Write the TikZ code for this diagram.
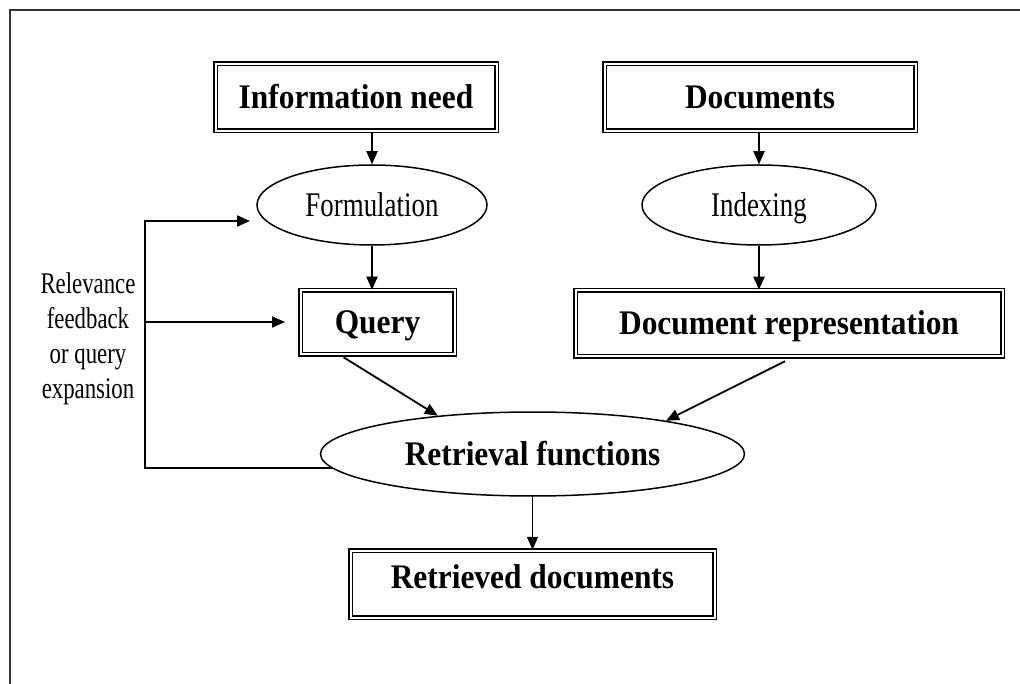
\documentclass[tikz,border=0pt]{standalone}
\usepackage{fontspec}
\setmainfont{Liberation Serif}
\newfontfamily\rmcond[FakeStretch=0.78]{Liberation Serif}
\newfontfamily\fbcond[FakeStretch=0.76]{Liberation Serif}
\newfontfamily\bfcond[FakeStretch=0.91]{Liberation Serif}
\usetikzlibrary{shapes.geometric,arrows.meta,calc}
\begin{document}
\begin{tikzpicture}[x=1pt,y=-1pt,
 dbox/.style={draw, double, double distance=2pt, line width=1.5pt, inner sep=0pt, text height=23pt, text depth=0pt, font=\bfcond\bfseries\fontsize{34.5}{38}\selectfont},
 oval/.style={ellipse, draw, line width=1.5pt, inner sep=0pt, text height=23pt, text depth=0pt},
 ovaltext/.style={font=\rmcond\fontsize{34.5}{38}\selectfont},
 conn/.style={line width=1.8pt, -{Triangle[length=13pt,width=11pt]}}]
\useasboundingbox (0,0) rectangle (1020,684);
\fill[white] (0,0) rectangle (1020,684);
\draw[line width=2.2pt, color=black!80] (10,684) -- (10,10) -- (1020,10);

\node[dbox, minimum width=281pt, minimum height=67pt] (info) at (356,97.5) {Information need};
\node[dbox, minimum width=311pt, minimum height=67pt] (docs) at (760,97.5) {Documents};
\node[oval, ovaltext, minimum width=230pt, minimum height=80pt] (form) at (372,205) {Formulation};
\node[oval, ovaltext, minimum width=234pt, minimum height=80pt] (index) at (759,205) {Indexing};
\node[dbox, minimum width=154pt, minimum height=64pt] (query) at (377.5,322.5) {Query};
\node[dbox, minimum width=427pt, minimum height=66pt] (docrep) at (789,323.5) {Document representation};
\node[oval, minimum width=424pt, minimum height=84pt, font=\bfcond\bfseries\fontsize{34.5}{38}\selectfont] (retr) at (532.5,454) {Retrieval functions};
\node[dbox, minimum width=364pt, minimum height=67pt, text depth=15pt] (retrieved) at (532.5,584) {Retrieved documents};
\node[align=center, inner sep=0pt, font=\fbcond\fontsize{30}{35}\selectfont] (fbtext) at (88,339) {Relevance\\feedback\\or query\\expansion};

\coordinate (fbtop) at (145,221);
\coordinate (fbmid) at (145,322);
\coordinate (fbtopend) at (250,221);
\coordinate (fbmidend) at (285,322);

\draw[conn] (form.north |- info.south) -- (form.north);
\draw[conn] (index.north |- docs.south) -- (index.north);
\draw[conn] (form.south) -- (form.south |- query.north);
\draw[conn] (index.south) -- (index.south |- docrep.north);
\draw[conn] ($(query.south)+(-34,2)$) -- (retr.158.6);
\draw[conn] ($(docrep.south)+(-4,4)$) -- (retr.14);
\draw[conn] (retr.south) -- (retrieved.north);
\draw[conn] (retr.184.5) -| (fbtop) -- (fbtopend);
\draw[conn] (fbmid) -- (fbmidend);
\end{tikzpicture}
\end{document}
